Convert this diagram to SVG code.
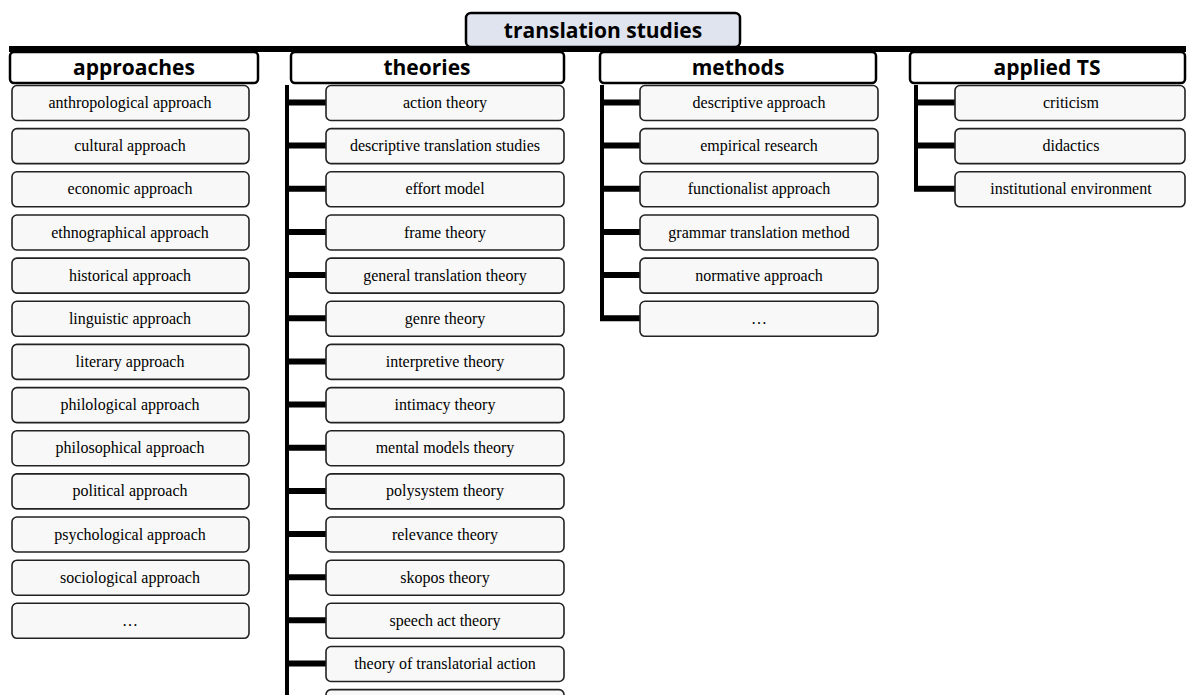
<svg xmlns="http://www.w3.org/2000/svg" width="1187" height="695" viewBox="0 0 1187 695">
<style>
.hdr{fill:#fff;stroke:#000;stroke-width:2.5}
.ttl{fill:#dfe4ef;stroke:#000;stroke-width:2.5}
.ht{font-family:"Open Sans","Liberation Sans",sans-serif;font-weight:700;font-size:21px;fill:#000;text-anchor:middle}
.nd{fill:#f8f8f8;stroke:#222;stroke-width:1.6}
.nt{font-family:"Liberation Serif",serif;font-size:16px;fill:#000;text-anchor:middle}
.ln{stroke:#000;fill:none}
</style>
<rect width="1187" height="695" fill="#fff"/>
<g id="connectors">
<rect x="9" y="46" width="1177" height="6" fill="#000"/>
<path class="ln" stroke-width="4" d="M287 85V695M602 85V320M916 85V190"/>
<g class="ln" stroke-width="6">
<path d="M287 102.5H327M287 145.6H327M287 188.8H327M287 232H327M287 275.1H327M287 318.3H327M287 361.4H327M287 404.6H327M287 447.7H327M287 490.9H327M287 534H327M287 577.2H327M287 620.3H327M287 663.5H327"/>
<path d="M600 102.5H641M600 145.6H641M600 188.8H641M600 232H641M600 275.1H641M600 318.3H641"/>
<path d="M914 102.5H956M914 145.6H956M914 188.8H956"/>
</g>
</g>
<g id="root"><rect class="ttl" x="466" y="13" width="274" height="34" rx="5"/><text class="ht" x="603" y="38">translation studies</text></g>
<g id="h-approaches"><rect class="hdr" x="10" y="52" width="248" height="31" rx="4"/><text class="ht" x="134" y="75">approaches</text></g>
<g id="h-theories"><rect class="hdr" x="291" y="52" width="273" height="31" rx="4"/><text class="ht" x="427" y="75">theories</text></g>
<g id="h-methods"><rect class="hdr" x="600" y="52" width="276" height="31" rx="4"/><text class="ht" x="738" y="75">methods</text></g>
<g id="h-applied"><rect class="hdr" x="910" y="52" width="275" height="31" rx="4"/><text class="ht" x="1047" y="75">applied TS</text></g>

<g id="approaches">
<g id="a1"><rect class="nd" x="12" y="85.5" width="237" height="35" rx="5"/><text class="nt" x="130" y="108">anthropological approach</text></g>
<g id="a2"><rect class="nd" x="12" y="128.6" width="237" height="35" rx="5"/><text class="nt" x="130" y="151">cultural approach</text></g>
<g id="a3"><rect class="nd" x="12" y="171.8" width="237" height="35" rx="5"/><text class="nt" x="130" y="194">economic approach</text></g>
<g id="a4"><rect class="nd" x="12" y="215" width="237" height="35" rx="5"/><text class="nt" x="130" y="237.5">ethnographical approach</text></g>
<g id="a5"><rect class="nd" x="12" y="258.1" width="237" height="35" rx="5"/><text class="nt" x="130" y="280.5">historical approach</text></g>
<g id="a6"><rect class="nd" x="12" y="301.3" width="237" height="35" rx="5"/><text class="nt" x="130" y="323.5">linguistic approach</text></g>
<g id="a7"><rect class="nd" x="12" y="344.4" width="237" height="35" rx="5"/><text class="nt" x="130" y="367">literary approach</text></g>
<g id="a8"><rect class="nd" x="12" y="387.6" width="237" height="35" rx="5"/><text class="nt" x="130" y="410">philological approach</text></g>
<g id="a9"><rect class="nd" x="12" y="430.7" width="237" height="35" rx="5"/><text class="nt" x="130" y="453">philosophical approach</text></g>
<g id="a10"><rect class="nd" x="12" y="473.9" width="237" height="35" rx="5"/><text class="nt" x="130" y="496">political approach</text></g>
<g id="a11"><rect class="nd" x="12" y="517" width="237" height="35" rx="5"/><text class="nt" x="130" y="539.5">psychological approach</text></g>
<g id="a12"><rect class="nd" x="12" y="560.2" width="237" height="35" rx="5"/><text class="nt" x="130" y="582.5">sociological approach</text></g>
<g id="a13"><rect class="nd" x="12" y="603.3" width="237" height="35" rx="5"/><text class="nt" x="130" y="625.5">…</text></g>
</g>

<g id="theories">
<g id="t1"><rect class="nd" x="326" y="85.5" width="238" height="35" rx="5"/><text class="nt" x="445" y="108">action theory</text></g>
<g id="t2"><rect class="nd" x="326" y="128.6" width="238" height="35" rx="5"/><text class="nt" x="445" y="151">descriptive translation studies</text></g>
<g id="t3"><rect class="nd" x="326" y="171.8" width="238" height="35" rx="5"/><text class="nt" x="445" y="194">effort model</text></g>
<g id="t4"><rect class="nd" x="326" y="215" width="238" height="35" rx="5"/><text class="nt" x="445" y="237.5">frame theory</text></g>
<g id="t5"><rect class="nd" x="326" y="258.1" width="238" height="35" rx="5"/><text class="nt" x="445" y="280.5">general translation theory</text></g>
<g id="t6"><rect class="nd" x="326" y="301.3" width="238" height="35" rx="5"/><text class="nt" x="445" y="323.5">genre theory</text></g>
<g id="t7"><rect class="nd" x="326" y="344.4" width="238" height="35" rx="5"/><text class="nt" x="445" y="367">interpretive theory</text></g>
<g id="t8"><rect class="nd" x="326" y="387.6" width="238" height="35" rx="5"/><text class="nt" x="445" y="410">intimacy theory</text></g>
<g id="t9"><rect class="nd" x="326" y="430.7" width="238" height="35" rx="5"/><text class="nt" x="445" y="453">mental models theory</text></g>
<g id="t10"><rect class="nd" x="326" y="473.9" width="238" height="35" rx="5"/><text class="nt" x="445" y="496">polysystem theory</text></g>
<g id="t11"><rect class="nd" x="326" y="517" width="238" height="35" rx="5"/><text class="nt" x="445" y="539.5">relevance theory</text></g>
<g id="t12"><rect class="nd" x="326" y="560.2" width="238" height="35" rx="5"/><text class="nt" x="445" y="582.5">skopos theory</text></g>
<g id="t13"><rect class="nd" x="326" y="603.3" width="238" height="35" rx="5"/><text class="nt" x="445" y="625.5">speech act theory</text></g>
<g id="t14"><rect class="nd" x="326" y="646.5" width="238" height="35" rx="5"/><text class="nt" x="445" y="669">theory of translatorial action</text></g>
<g id="t15"><rect class="nd" x="326" y="689.6" width="238" height="35" rx="5"/></g>
</g>

<g id="methods">
<g id="m1"><rect class="nd" x="640" y="85.5" width="238" height="35" rx="5"/><text class="nt" x="759" y="108">descriptive approach</text></g>
<g id="m2"><rect class="nd" x="640" y="128.6" width="238" height="35" rx="5"/><text class="nt" x="759" y="151">empirical research</text></g>
<g id="m3"><rect class="nd" x="640" y="171.8" width="238" height="35" rx="5"/><text class="nt" x="759" y="194">functionalist approach</text></g>
<g id="m4"><rect class="nd" x="640" y="215" width="238" height="35" rx="5"/><text class="nt" x="759" y="237.5">grammar translation method</text></g>
<g id="m5"><rect class="nd" x="640" y="258.1" width="238" height="35" rx="5"/><text class="nt" x="759" y="280.5">normative approach</text></g>
<g id="m6"><rect class="nd" x="640" y="301.3" width="238" height="35" rx="5"/><text class="nt" x="759" y="323.5">…</text></g>
</g>

<g id="applied">
<g id="p1"><rect class="nd" x="955" y="85.5" width="230" height="35" rx="5"/><text class="nt" x="1071" y="108">criticism</text></g>
<g id="p2"><rect class="nd" x="955" y="128.6" width="230" height="35" rx="5"/><text class="nt" x="1071" y="151">didactics</text></g>
<g id="p3"><rect class="nd" x="955" y="171.8" width="230" height="35" rx="5"/><text class="nt" x="1071" y="194">institutional environment</text></g>
</g>
</svg>
